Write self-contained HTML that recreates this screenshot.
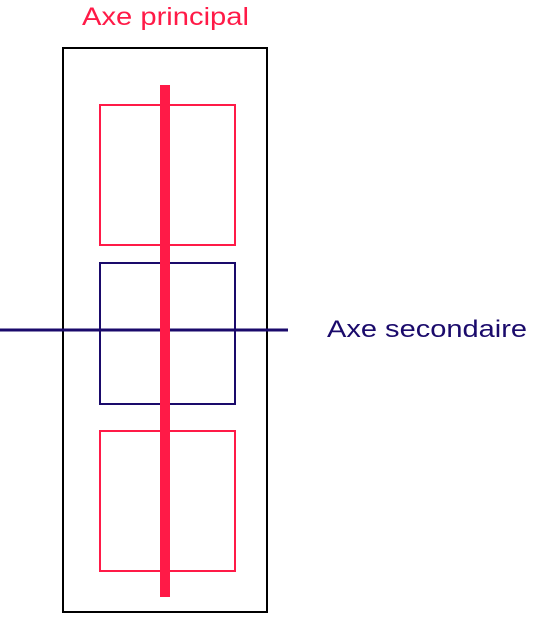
<!DOCTYPE html>
<html><head><meta charset="utf-8"><style>html,body{margin:0;padding:0;background:#fff;}svg{display:block;}</style></head>
<body>
<svg width="540" height="631" viewBox="0 0 540 631" style="font-family:'Liberation Sans',sans-serif">
  <text x="82" y="25" font-size="25" fill="#ff1a47" textLength="167" lengthAdjust="spacingAndGlyphs">Axe principal</text>
  <rect x="63" y="48" width="204" height="564" fill="none" stroke="#000" stroke-width="2"/>
  <rect x="100" y="105" width="135" height="140" fill="none" stroke="#ff1a47" stroke-width="2"/>
  <rect x="100" y="263" width="135" height="141" fill="none" stroke="#1a0a6b" stroke-width="2"/>
  <rect x="100" y="431" width="135" height="140" fill="none" stroke="#ff1a47" stroke-width="2"/>
  <line x1="0" y1="330" x2="288" y2="330" stroke="#1a0a6b" stroke-width="3"/>
  <rect x="160" y="85" width="10" height="512" fill="#ff1a47"/>
  <text x="327" y="337" font-size="24" fill="#1a0a6b" textLength="200" lengthAdjust="spacingAndGlyphs">Axe secondaire</text>
</svg>
</body></html>
